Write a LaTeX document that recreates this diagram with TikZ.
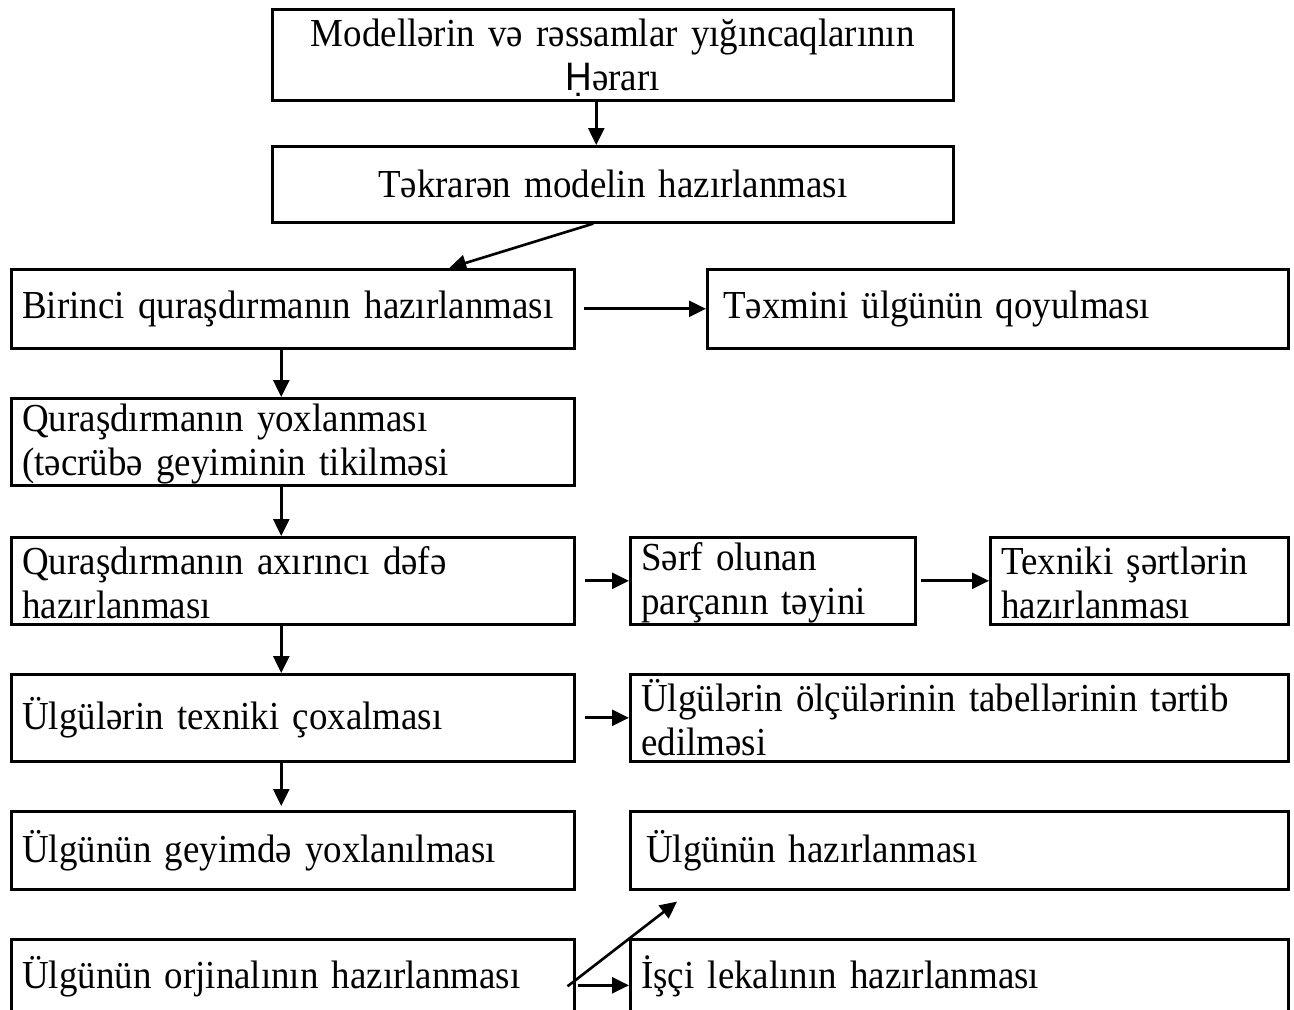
\documentclass[tikz,border=0pt]{standalone}
\usepackage{fontspec}
\setmainfont{Liberation Serif}[FakeStretch=0.93]
\newfontfamily\hfont{Liberation Sans}[FakeStretch=0.93]
\usetikzlibrary{arrows.meta}

\begin{document}
\begin{tikzpicture}[x=0.02cm, y=-0.02cm,
    box/.style={draw, line width=1.5pt, anchor=north west, align=left,
      inner xsep=0.22cm, inner ysep=0pt, font=\fontsize{22.6}{25}\selectfont},
    low/.style={execute at begin node={\rule{0pt}{18.6pt}}},
    arr/.style={-{Triangle[length=0.34cm, width=0.32cm]}, line width=1.5pt}]

    \useasboundingbox (0,0) rectangle (1294,1010);
    \clip (0,0) rectangle (1294,1010);

    \node[box, low, align=center, text width=13.18cm, minimum height=1.82cm] (qerar) at (271,8)
      {Modellərin və rəssamlar yığıncaqlarının\\{\hfont Ḥ}ərarı};
    \node[box, align=center, text width=13.18cm, minimum height=1.52cm] (tekrar) at (271,145)
      {Təkrarən modelin hazırlanması};

    \node[box, text width=10.82cm, minimum height=1.58cm] (birinci) at (10,268)
      {Birinci quraşdırmanın hazırlanması};
    \node[box, text width=11.18cm, minimum height=1.58cm] (texmini) at (706,268)
      {\hspace{0.1cm}Təxmini ülgünün qoyulması};

    \node[box, low, text width=10.82cm, minimum height=1.74cm] (yoxla) at (10,397)
      {Quraşdırmanın yoxlanması\\(təcrübə geyiminin tikilməsi};

    \node[box, low, text width=10.82cm, minimum height=1.74cm] (axirinci) at (10,536)
      {Quraşdırmanın axırıncı dəfə\\hazırlanması};
    \node[box, low, text width=5.26cm, minimum height=1.74cm] (serf) at (629,536)
      {Sərf olunan\\parçanın təyini};
    \node[box, low, text width=5.52cm, minimum height=1.74cm] (texniki) at (989,536)
      {Texniki şərtlərin\\hazırlanması};

    \node[box, text width=10.82cm, minimum height=1.74cm] (coxalma) at (10,673)
      {Ülgülərin texniki çoxalması};
    \node[box, text width=12.72cm, minimum height=1.74cm] (tabel) at (629,673)
      {Ülgülərin ölçülərinin tabellərinin tərtib\\edilməsi};

    \node[box, text width=10.82cm, minimum height=1.56cm] (geyim) at (10,810)
      {Ülgünün geyimdə yoxlanılması};
    \node[box, text width=12.72cm, minimum height=1.56cm] (ulgu) at (629,810)
      {\hspace{0.1cm}Ülgünün hazırlanması};

    \node[box, text width=10.82cm, minimum height=1.48cm] (orjinal) at (10,938)
      {Ülgünün orjinalının hazırlanması};
    \node[box, text width=12.72cm, minimum height=1.48cm] (isci) at (629,938)
      {İşçi lekalının hazırlanması};

    \draw[arr] ([xshift=-0.33cm]qerar.south) -- ([xshift=-0.33cm]tekrar.north);
    \draw[arr] ([xshift=-0.39cm]tekrar.south) -- ([xshift=3.13cm]birinci.north);
    \draw[arr, shorten <=0.16cm] (birinci.east) -- (texmini.west);
    \draw[arr] ([xshift=-0.23cm]birinci.south) -- ([xshift=-0.23cm]yoxla.north);
    \draw[arr] ([xshift=-0.23cm]yoxla.south) -- ([xshift=-0.23cm]axirinci.north);
    \draw[arr, shorten <=0.18cm] (axirinci.east) -- (serf.west);
    \draw[arr, shorten <=0.08cm] (serf.east) -- (texniki.west);
    \draw[arr] ([xshift=-0.23cm]axirinci.south) -- ([xshift=-0.23cm]coxalma.north);
    \draw[arr, shorten <=0.18cm] (coxalma.east) -- (tabel.west);
    \draw[arr, shorten >=0.08cm] ([xshift=-0.23cm]coxalma.south) -- ([xshift=-0.23cm]geyim.north);
    \draw[arr] ([xshift=-0.16cm, yshift=-0.2cm]orjinal.east) -- ([xshift=0.96cm, yshift=-0.22cm]ulgu.south west);
    \draw[arr] ([xshift=0.04cm, yshift=-0.18cm]orjinal.east) -- ([yshift=-0.18cm]isci.west);
  \end{tikzpicture}
\end{document}
